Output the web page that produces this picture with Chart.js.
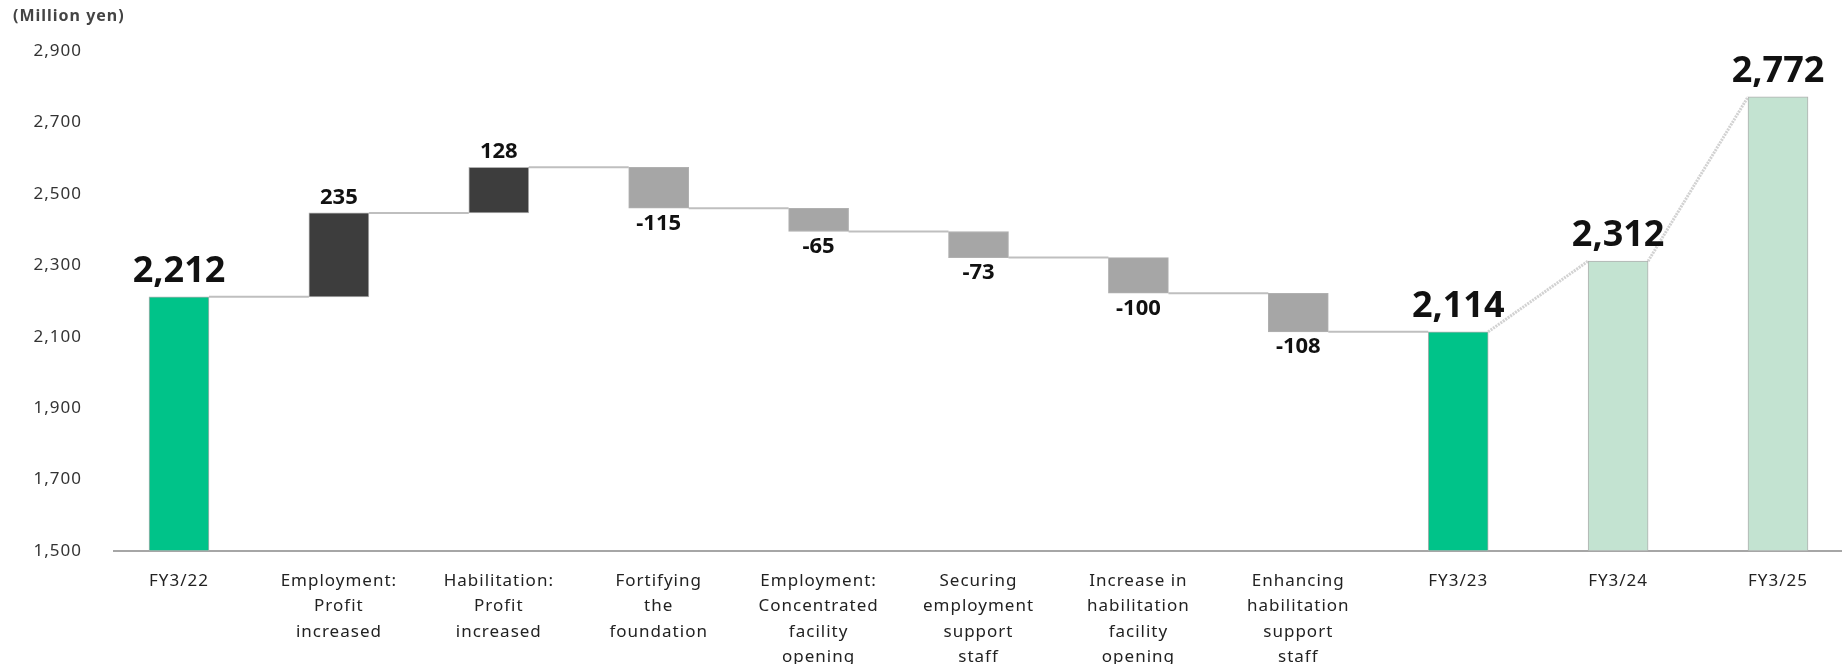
<!DOCTYPE html>
<html>
<head>
<meta charset="utf-8">
<script src="https://cdn.jsdelivr.net/npm/chart.js@4.4.1/dist/chart.umd.min.js"></script>
<style>
  html, body { margin: 0; padding: 0; background: #fff; }
  #wrap { width: 1842px; height: 664px; }
</style>
</head>
<body>
<div id="wrap"><canvas id="myChart"></canvas></div>
<script>
var categories = [
    ['FY3/22'],
    ['Employment:', 'Profit', 'increased'],
    ['Habilitation:', 'Profit', 'increased'],
    ['Fortifying', 'the', 'foundation'],
    ['Employment:', 'Concentrated', 'facility', 'opening'],
    ['Securing', 'employment', 'support', 'staff'],
    ['Increase in', 'habilitation', 'facility', 'opening'],
    ['Enhancing', 'habilitation', 'support', 'staff'],
    ['FY3/23'],
    ['FY3/24'],
    ['FY3/25']
];
// totals are absolute, deltas are changes from the previous level
var values = [2212, 235, 128, -115, -65, -73, -100, -108, 2114, 2312, 2772];
var kinds = ['total', 'delta', 'delta', 'delta', 'delta', 'delta', 'delta', 'delta', 'total', 'plan', 'plan'];
var yMin = 1500;
var yMax = 2900;
var yStep = 200;

var colors = {
    total: '#00c389',
    up: '#3d3d3d',
    down: '#a6a6a6',
    plan: '#c3e3d1'
};

// build floating bars [start, end] and running levels
var level = 0;
var levels = [];
var ranges = values.map(function (v, i) {
    var r;
    if (kinds[i] === 'delta') {
        r = [level, level + v];
        level = level + v;
    } else {
        r = [yMin, v];
        level = v;
    }
    levels.push(level);
    return r;
});

var barColors = values.map(function (v, i) {
    if (kinds[i] === 'delta') return v > 0 ? colors.up : colors.down;
    return colors[kinds[i]];
});

var fmt = function (n) {
    return n.toLocaleString('en-US');
};

var waterfall = {
    id: 'waterfall',
    beforeDraw: function (chart) {
        chart.ctx.letterSpacing = '1px';
    },
    beforeDatasetsDraw: function (chart) {
        var ctx = chart.ctx;
        ctx.letterSpacing = '0px';
        var y = chart.scales.y;
        var bars = chart.getDatasetMeta(0).data;

        ctx.save();
        // base line
        ctx.strokeStyle = '#a6a6a6';
        ctx.lineWidth = 2;
        ctx.beginPath();
        ctx.moveTo(113, y.getPixelForValue(yMin));
        ctx.lineTo(chart.width, y.getPixelForValue(yMin));
        ctx.stroke();

        // connectors
        for (var i = 0; i < bars.length - 1; i++) {
            var a = bars[i], b = bars[i + 1];
            var x1 = a.x + a.width / 2;
            var x2 = b.x - b.width / 2;
            ctx.beginPath();
            if (kinds[i + 1] === 'plan') {
                ctx.strokeStyle = '#d2d2d2';
                ctx.lineWidth = 3;
                ctx.setLineDash([2, 1]);
                ctx.moveTo(x1, y.getPixelForValue(levels[i]));
                ctx.lineTo(x2, y.getPixelForValue(levels[i + 1]));
            } else {
                ctx.strokeStyle = '#bfbfbf';
                ctx.lineWidth = 2;
                ctx.setLineDash([]);
                ctx.moveTo(x1, y.getPixelForValue(levels[i]));
                ctx.lineTo(x2, y.getPixelForValue(levels[i]));
            }
            ctx.stroke();
        }
        ctx.restore();
    },
    afterDatasetsDraw: function (chart) {
        var ctx = chart.ctx;
        var bars = chart.getDatasetMeta(0).data;
        ctx.save();
        ctx.fillStyle = '#111';
        ctx.textAlign = 'center';
        ctx.textBaseline = 'middle';
        bars.forEach(function (bar, i) {
            var top = Math.min(bar.y, bar.base);
            var bottom = Math.max(bar.y, bar.base);
            if (kinds[i] !== 'delta') {
                ctx.font = 'bold 36px "Noto Sans"';
                ctx.fillText(fmt(values[i]), bar.x, top - 25);
            } else if (values[i] > 0) {
                ctx.font = 'bold 22px "Noto Sans"';
                ctx.fillText(fmt(values[i]), bar.x, top - 15);
            } else {
                ctx.font = 'bold 22px "Noto Sans"';
                ctx.fillText(fmt(values[i]), bar.x, bottom + 15);
            }
        });
        ctx.restore();
    }
};

var ctx = document.getElementById('myChart');

new Chart(ctx, {
    type: 'bar',
    data: {
        labels: categories,
        datasets: [{
            data: ranges,
            backgroundColor: barColors,
            borderColor: '#b0b0b0',
            borderWidth: 1,
            borderSkipped: false,
            barThickness: 60,
            clip: false
        }]
    },
    options: {
        responsive: true,
        maintainAspectRatio: false,
        animation: false,
        layout: {
            padding: { left: 13, right: 64, top: 0, bottom: 0 }
        },
        plugins: {
            legend: { display: false },
            tooltip: { enabled: false },
            title: {
                display: true,
                text: '(Million yen)',
                align: 'start',
                color: '#444',
                font: { family: '"Noto Sans"', size: 16, weight: 'bold' },
                padding: { top: 7, bottom: 25 }
            }
        },
        scales: {
            x: {
                offset: false,
                grid: { display: false, drawTicks: false },
                border: { display: false },
                ticks: {
                    autoSkip: false,
                    maxRotation: 0,
                    padding: 17,
                    color: '#222',
                    font: { family: '"Noto Sans"', size: 17, lineHeight: 1.5 }
                },
                afterFit: function (scale) {
                    scale.height = 113;
                }
            },
            y: {
                min: yMin,
                max: yMax,
                grid: { display: false, drawTicks: false },
                border: { display: false },
                ticks: {
                    stepSize: yStep,
                    padding: 97,
                    color: '#333',
                    font: { family: '"Noto Sans"', size: 17 },
                    callback: function (v) { return fmt(v); }
                },
                afterFit: function (scale) {
                    scale.width = 166;
                    scale.paddingTop = 10;
                    scale.paddingBottom = 10;
                }
            }
        }
    },
    plugins: [waterfall]
});
</script>
</body>
</html>
